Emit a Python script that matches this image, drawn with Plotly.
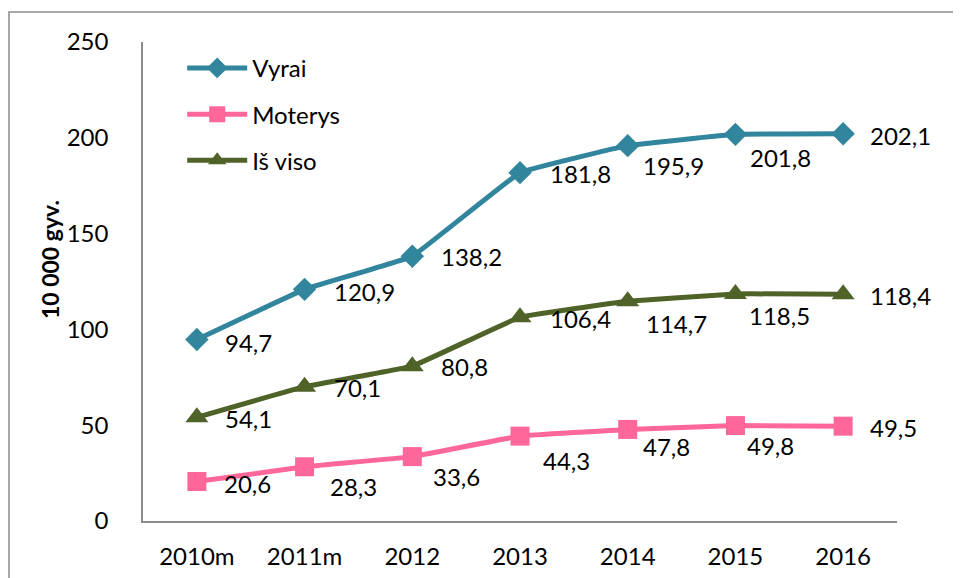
import plotly.graph_objects as go

categories = ["2010m", "2011m", "2012", "2013", "2014", "2015", "2016"]
vyrai = [94.7, 120.9, 138.2, 181.8, 195.9, 201.8, 202.1]
moterys = [20.6, 28.3, 33.6, 44.3, 47.8, 49.8, 49.5]
is_viso = [54.1, 70.1, 80.8, 106.4, 114.7, 118.5, 118.4]

series_names = ["Vyrai", "Moterys", "Iš viso"]
series_values = [vyrai, moterys, is_viso]
colors = ["#31859C", "#FF6699", "#4F6228"]
symbols = ["diamond", "square", "triangle-up"]
msizes = [18, 19, 20]

# label offsets (pixels): gap to the right of point, drop below point
label_dx = [
    [26, 27, 27, 28, 13, 13, 25],
    [25, 23, 19, 21, 13, 10, 25],
    [26, 27, 27, 28, 16, 12, 25],
]
label_dy = [
    [3, 2, 0, 1, 20, 23, 2],
    [2, 20, 20, 24, 17, 20, 1],
    [1, 1, 0, 1, 22, 22, 1],
]

FONT = "Lato"
FS = 24

fig = go.Figure()
for i, (name, vals) in enumerate(zip(series_names, series_values)):
    fig.add_trace(go.Scatter(
        x=list(range(len(categories))), y=vals, name=name, mode="lines+markers",
        line=dict(color=colors[i], width=5, shape="spline", smoothing=0.2),
        marker=dict(symbol=symbols[i], size=msizes[i], color=colors[i]),
        legendgroup=name,
    ))

annotations = []
for i, vals in enumerate(series_values):
    for j, v in enumerate(vals):
        annotations.append(dict(
            x=j, y=v, xref="x", yref="y",
            text=f"{v:.1f}".replace(".", ","), showarrow=False,
            xanchor="left", yanchor="middle",
            xshift=label_dx[i][j], yshift=-label_dy[i][j],
            font=dict(family=FONT, size=FS, color="#000000"),
        ))

# y-axis title as annotation (placed slightly above centre, as in the reference)
annotations.append(dict(
    text="<b>10 000 gyv.</b>", textangle=-90, showarrow=False,
    xref="paper", yref="paper", x=-0.1225, y=0.546,
    xanchor="center", yanchor="middle",
    font=dict(family=FONT, size=23, color="#000000"),
))

fig.update_layout(
    width=953, height=570,
    margin=dict(l=135, r=64, t=34, b=57, autoexpand=False),
    paper_bgcolor="white", plot_bgcolor="white",
    font=dict(family=FONT, size=FS, color="#000000"),
    showlegend=True,
    legend=dict(
        x=0.052, y=0.992, xanchor="left", yanchor="top",
        bgcolor="rgba(0,0,0,0)", font=dict(family=FONT, size=FS),
        traceorder="grouped", tracegroupgap=12, itemwidth=60,
    ),
    annotations=annotations,
    shapes=[dict(
        type="rect", xref="paper", yref="paper",
        x0=-0.1777, x1=1.3, y0=-0.3, y1=1.0626,
        line=dict(color="#8C8C8C", width=1.5), fillcolor="rgba(0,0,0,0)",
        layer="below",
    )],
)
fig.update_xaxes(
    range=[-0.5, 6.5], tickmode="array", tickvals=list(range(len(categories))),
    ticktext=categories, showgrid=False, zeroline=False, automargin=False,
    showline=True, linecolor="#8C8C8C", linewidth=1.5, ticks="",
    ticklabelstandoff=13, tickfont=dict(family=FONT, size=FS),
)
fig.update_yaxes(
    range=[0, 250], dtick=50, showgrid=False, zeroline=False, automargin=False,
    showline=True, linecolor="#8C8C8C", linewidth=1.5, ticks="",
    ticklabelstandoff=28, tickfont=dict(family=FONT, size=FS),
)

fig.write_html("out.html")
